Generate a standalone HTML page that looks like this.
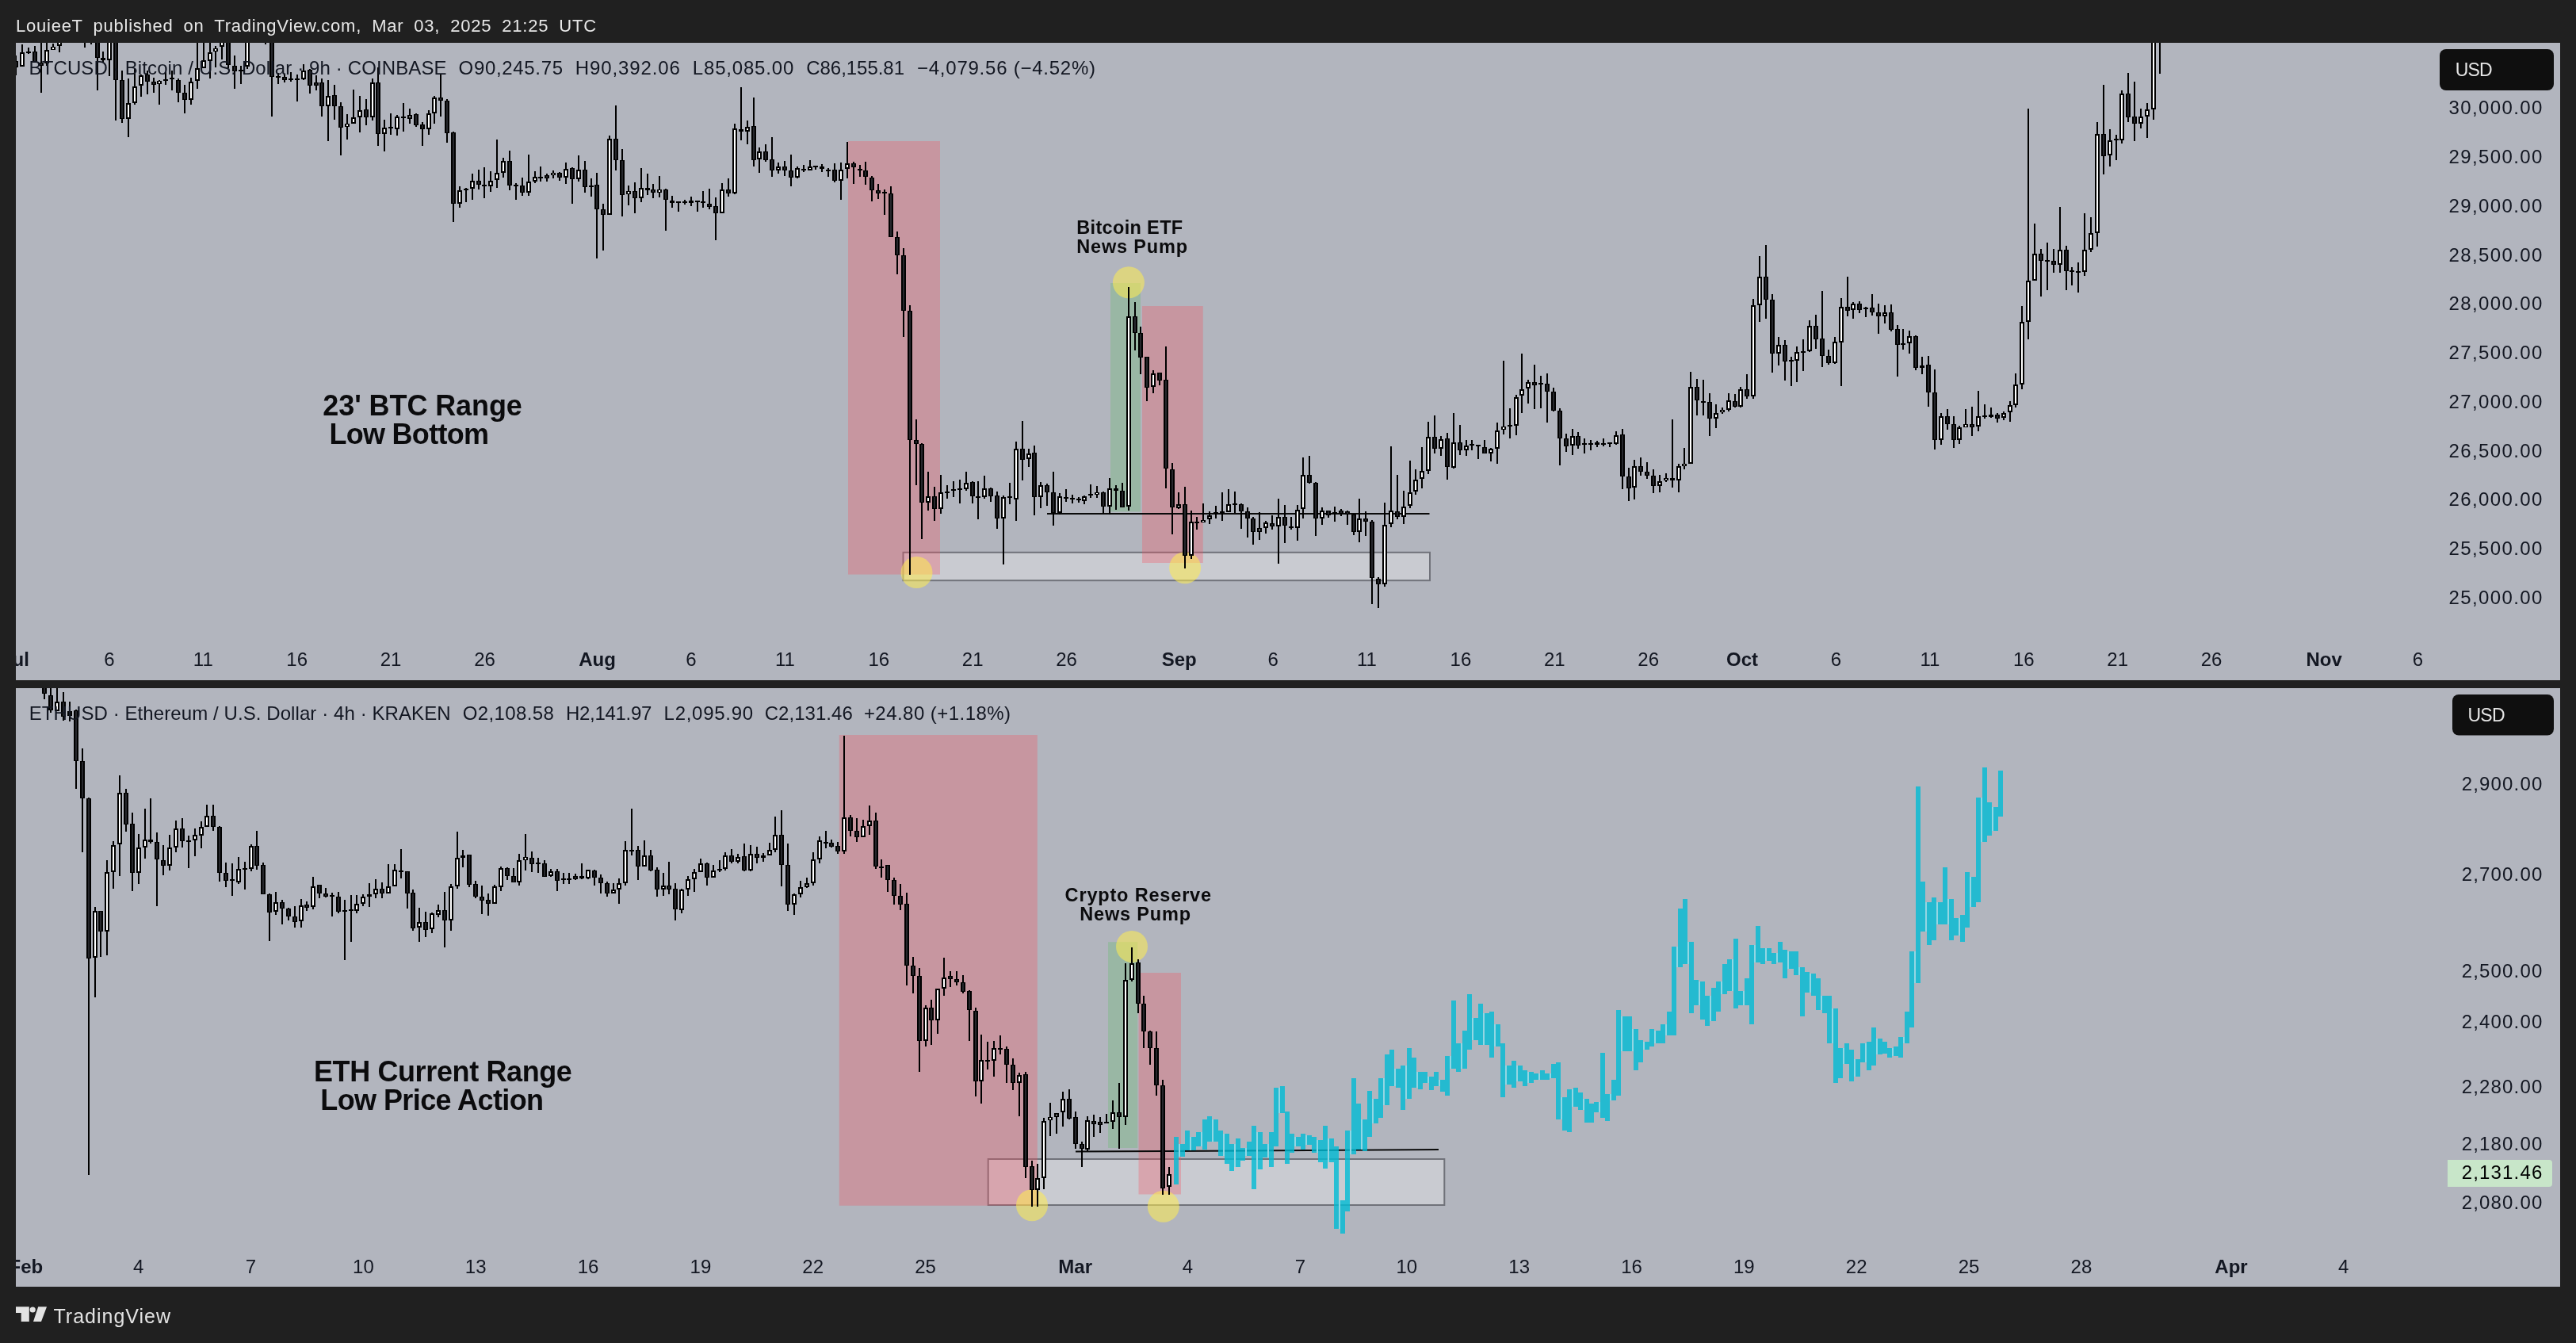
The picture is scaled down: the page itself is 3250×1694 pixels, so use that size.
<!DOCTYPE html>
<html lang="en"><head><meta charset="utf-8"><title>TradingView chart snapshot</title>
<style>
html,body{margin:0;padding:0;background:#202020;}
body{width:3250px;height:1694px;overflow:hidden;}
svg{display:block;font-family:"Liberation Sans", sans-serif;will-change:transform;}
text{white-space:pre;}
</style></head><body>
<svg width="3250" height="1694" viewBox="0 0 3250 1694">
<rect width="3250" height="1694" fill="#202020"/>
<rect x="20.0" y="54.0" width="3210.0" height="804.0" fill="#b2b5be"/>
<rect x="20.0" y="868.0" width="3210.0" height="755.0" fill="#b2b5be"/>
<text x="20.0" y="40.0" font-size="22" fill="#e6e6e6" font-weight="normal" text-anchor="start" letter-spacing="0.76" word-spacing="6.2">LouieeT published on TradingView.com, Mar 03, 2025 21:25 UTC</text>
<g fill="#e3e3e3"><path d="M20 1648.2H36.8V1667H26.7V1656H20Z"/><circle cx="41.2" cy="1652" r="3.6"/><path d="M48.2 1648.2H59L52 1667H42Z"/></g>
<text x="67.5" y="1668.7" font-size="25" fill="#e3e3e3" font-weight="normal" text-anchor="start" textLength="147.5" lengthAdjust="spacing">TradingView</text>
<defs><clipPath id="c1"><rect x="20" y="54" width="3210" height="804"/></clipPath><clipPath id="c2"><rect x="20" y="868" width="3210" height="755"/></clipPath></defs>
<g clip-path="url(#c1)">
<rect x="1139.5" y="696.8" width="664.5" height="35.4" fill="rgba(255,255,255,0.30)" stroke="#70727a" stroke-width="2"/>
<rect x="1070.0" y="178.0" width="116.0" height="546.6" fill="rgba(248,78,93,0.3)"/>
<rect x="1401.0" y="357.0" width="38.0" height="288.4" fill="#99b7a4"/>
<rect x="1441.0" y="386.0" width="76.8" height="324.0" fill="rgba(248,78,93,0.3)"/>
<line x1="1321" y1="648" x2="1803.5" y2="648" stroke="#0a0a0a" stroke-width="2"/>
<circle cx="1423.9" cy="356.3" r="20" fill="rgba(255,236,80,0.55)"/>
<circle cx="1156.5" cy="722.1" r="20" fill="rgba(255,236,80,0.55)"/>
<circle cx="1495.1" cy="716.2" r="20" fill="rgba(255,236,80,0.55)"/>
<path d="M20 70V95M28 56V84M36 60V68M44 58V79M52 52V117M59 52V83M67 55V63M75 49V66M83 29V49M91 29V47M99 29V48M107 29V60M115 29V56M123 42V114M130 65V79M138 42V96M146 42V152M154 89V155M162 99V173M170 86V132M178 94V122M186 89V119M194 98V117M201 101V132M209 91V107M217 89V114M225 99V129M233 107V143M241 98V132M249 52V112M257 52V86M265 52V99M272 58V85M280 47V75M288 44V86M296 70V112M304 83V106M312 38V87M320 7V38M328 7V46M335 23V56M343 38V147M351 92V106M359 94V104M367 91V103M375 94V128M383 81V101M391 87V118M399 95V114M406 99V147M414 101V178M422 107V151M430 129V196M438 144V176M446 113V156M454 121V167M462 125V158M470 99V152M477 85V184M485 151V191M493 143V170M501 145V171M509 130V166M517 137V156M525 143V160M533 154V184M541 139V170M548 121V156M556 94V147M564 125V180M572 166V280M580 235V262M588 237V255M596 219V252M604 214V239M611 211V250M619 216V242M627 176V237M635 199V224M643 190V240M651 231V252M659 224V247M667 195V247M675 216V231M682 210V229M690 219V229M698 215V225M706 217V228M714 205V232M722 211V257M730 196V229M738 203V243M746 225V248M753 218V326M761 257V316M769 171V271M777 133V215M785 188V273M793 234V259M801 230V269M809 212V255M817 219V246M824 232V250M832 222V249M840 238V291M848 247V262M856 254V267M864 252V258M872 248V260M880 253V267M887 241V262M895 238V264M903 249V303M911 231V269M919 225V248M927 156V245M935 110V177M943 152V182M951 123V210M958 186V218M966 182V204M974 173V223M982 205V219M990 203V222M998 195V235M1006 210V225M1014 208V217M1022 202V215M1029 209V214M1037 207V217M1045 212V223M1053 206V230M1061 205V252M1069 179V225M1077 204V232M1085 208V223M1092 204V233M1100 222V254M1108 232V251M1116 239V271M1124 235V299M1132 292V346M1140 313V425M1148 385V725M1156 529V612M1163 559V680M1171 595V644M1179 614V657M1187 599V648M1195 612V629M1203 607V627M1211 605V635M1219 595V619M1227 607V635M1234 607V655M1242 600V629M1250 615V633M1258 620V667M1266 625V712M1274 609V636M1282 557V657M1290 531V606M1298 566V589M1305 562V650M1313 608V641M1321 610V638M1329 595V663M1337 622V649M1345 617V633M1353 624V635M1361 627V634M1368 625V636M1376 611V628M1384 613V628M1392 620V648M1400 603V649M1408 612V643M1416 609V640M1424 362V644M1432 381V442M1439 412V472M1447 450V506M1455 467V496M1463 470V486M1471 437V616M1479 584V674M1487 621V642M1495 614V717M1503 644V705M1510 652V668M1518 635V659M1526 645V661M1534 638V654M1542 621V657M1550 617V646M1558 620V647M1566 635V667M1574 640V678M1581 652V687M1589 646V681M1597 657V673M1605 650V668M1613 629V711M1621 637V685M1629 652V668M1637 637V682M1644 577V654M1652 575V610M1660 608V676M1668 640V662M1676 644V653M1684 639V658M1692 642V651M1700 644V662M1708 648V675M1715 629V684M1723 645V676M1731 656V762M1739 728V767M1747 634V740M1755 563V665M1763 599V655M1771 619V661M1779 581V641M1786 592V624M1794 564V616M1802 532V598M1810 524V572M1818 550V575M1826 546V605M1834 521V591M1842 536V574M1850 555V575M1857 555V568M1865 561V579M1873 555V572M1881 565V582M1889 533V585M1897 455V548M1905 515V553M1913 498V549M1920 446V521M1928 479V509M1936 460V516M1944 474V515M1952 471V533M1960 489V519M1968 515V587M1976 547V570M1984 541V574M1991 545V566M1999 553V572M2007 555V568M2015 556V564M2023 553V563M2031 558V564M2039 544V561M2047 541V617M2055 590V632M2062 580V630M2070 577V600M2078 583V604M2086 592V622M2094 599V621M2102 597V608M2110 529V615M2118 585V621M2125 565V592M2133 469V585M2141 478V524M2149 479V524M2157 496V550M2165 510V540M2173 514V522M2181 496V519M2189 497V514M2196 488V514M2204 472V503M2212 377V503M2220 323V406M2228 309V402M2236 371V470M2244 425V461M2252 429V480M2260 450V487M2267 437V482M2275 428V468M2283 404V444M2291 397V440M2299 367V463M2307 441V460M2315 425V459M2323 376V487M2331 349V399M2338 381V402M2346 380V395M2354 387V400M2362 371V398M2370 383V421M2378 385V408M2386 384V418M2394 410V475M2401 415V441M2409 417V446M2417 423V467M2425 450V472M2433 449V513M2441 466V567M2449 521V561M2457 516V542M2465 525V565M2472 537V560M2480 516V539M2488 513V550M2496 493V544M2504 510V528M2512 514V527M2520 521V533M2528 519V530M2536 506V532M2543 471V514M2551 386V491M2559 137V428M2567 282V354M2575 314V374M2583 306V366M2591 314V344M2599 261V344M2607 310V366M2614 337V360M2622 331V369M2630 269V348M2638 274V318M2646 154V311M2654 107V220M2662 163V210M2670 170V202M2677 114V181M2685 92V154M2693 103V178M2701 137V162M2709 130V174M2717 7V151M2725 -8V93" stroke="#000" stroke-width="2" fill="none"/>
<path d="M17 77h6V85h-6ZM33 65h6V67h-6ZM41 65h6V79h-6ZM49 79h6V83h-6ZM80 35h6V47h-6ZM96 34h6V44h-6ZM112 39h6V49h-6ZM120 44h6V73h-6ZM127 73h6V76h-6ZM143 48h6V101h-6ZM151 101h6V150h-6ZM183 94h6V103h-6ZM191 103h6V107h-6ZM206 100h6V102h-6ZM214 98h6V100h-6ZM222 101h6V117h-6ZM230 117h6V126h-6ZM285 47h6V82h-6ZM293 83h6V90h-6ZM301 88h6V90h-6ZM317 15h6V35h-6ZM332 31h6V49h-6ZM340 45h6V97h-6ZM348 96h6V98h-6ZM356 97h6V101h-6ZM364 99h6V101h-6ZM372 99h6V101h-6ZM388 88h6V108h-6ZM396 104h6V108h-6ZM403 104h6V134h-6ZM419 120h6V134h-6ZM427 134h6V161h-6ZM459 138h6V148h-6ZM474 104h6V169h-6ZM490 160h6V162h-6ZM506 147h6V149h-6ZM522 144h6V158h-6ZM530 157h6V163h-6ZM553 123h6V127h-6ZM561 127h6V168h-6ZM569 167h6V257h-6ZM585 238h6V240h-6ZM601 228h6V233h-6ZM608 233h6V235h-6ZM640 203h6V234h-6ZM648 233h6V235h-6ZM656 234h6V243h-6ZM679 223h6V225h-6ZM687 221h6V225h-6ZM703 218h6V224h-6ZM719 212h6V226h-6ZM735 214h6V236h-6ZM743 234h6V236h-6ZM750 233h6V264h-6ZM758 264h6V271h-6ZM774 175h6V202h-6ZM782 202h6V246h-6ZM798 241h6V250h-6ZM814 237h6V240h-6ZM821 239h6V243h-6ZM837 239h6V252h-6ZM845 253h6V256h-6ZM853 254h6V256h-6ZM861 254h6V256h-6ZM869 253h6V256h-6ZM877 253h6V255h-6ZM884 254h6V256h-6ZM892 257h6V261h-6ZM900 260h6V269h-6ZM916 239h6V244h-6ZM932 163h6V166h-6ZM948 159h6V202h-6ZM963 191h6V202h-6ZM971 201h6V215h-6ZM987 210h6V215h-6ZM995 215h6V224h-6ZM1011 213h6V215h-6ZM1026 209h6V211h-6ZM1034 210h6V213h-6ZM1042 214h6V216h-6ZM1050 214h6V228h-6ZM1074 206h6V211h-6ZM1082 213h6V215h-6ZM1089 215h6V223h-6ZM1097 224h6V240h-6ZM1105 240h6V244h-6ZM1113 242h6V244h-6ZM1121 244h6V299h-6ZM1129 299h6V322h-6ZM1137 322h6V392h-6ZM1145 392h6V555h-6ZM1153 555h6V560h-6ZM1160 560h6V634h-6ZM1176 626h6V642h-6ZM1192 620h6V622h-6ZM1200 617h6V619h-6ZM1208 616h6V618h-6ZM1224 608h6V626h-6ZM1231 626h6V628h-6ZM1247 616h6V626h-6ZM1255 625h6V654h-6ZM1271 626h6V628h-6ZM1287 566h6V580h-6ZM1302 571h6V627h-6ZM1318 612h6V621h-6ZM1326 621h6V647h-6ZM1342 627h6V629h-6ZM1350 628h6V630h-6ZM1358 629h6V631h-6ZM1373 623h6V625h-6ZM1389 621h6V639h-6ZM1405 616h6V619h-6ZM1413 619h6V640h-6ZM1429 399h6V420h-6ZM1436 420h6V451h-6ZM1444 450h6V489h-6ZM1460 470h6V480h-6ZM1468 479h6V591h-6ZM1476 592h6V640h-6ZM1492 636h6V701h-6ZM1507 658h6V660h-6ZM1531 646h6V648h-6ZM1539 645h6V647h-6ZM1555 635h6V637h-6ZM1563 636h6V645h-6ZM1571 645h6V654h-6ZM1578 654h6V671h-6ZM1602 660h6V664h-6ZM1618 652h6V663h-6ZM1626 664h6V666h-6ZM1649 599h6V609h-6ZM1657 609h6V654h-6ZM1673 644h6V650h-6ZM1681 646h6V648h-6ZM1689 644h6V648h-6ZM1697 645h6V649h-6ZM1705 649h6V671h-6ZM1720 654h6V658h-6ZM1728 658h6V729h-6ZM1736 730h6V737h-6ZM1760 645h6V652h-6ZM1807 551h6V566h-6ZM1823 553h6V589h-6ZM1839 558h6V568h-6ZM1854 560h6V562h-6ZM1862 561h6V563h-6ZM1870 564h6V572h-6ZM1902 536h6V538h-6ZM1933 482h6V486h-6ZM1941 483h6V485h-6ZM1949 484h6V494h-6ZM1957 494h6V518h-6ZM1965 518h6V553h-6ZM1973 553h6V563h-6ZM1988 550h6V562h-6ZM1996 559h6V561h-6ZM2004 559h6V561h-6ZM2012 558h6V561h-6ZM2020 559h6V561h-6ZM2028 558h6V560h-6ZM2044 548h6V601h-6ZM2052 601h6V616h-6ZM2067 588h6V595h-6ZM2075 595h6V600h-6ZM2083 600h6V613h-6ZM2107 603h6V606h-6ZM2138 488h6V505h-6ZM2146 506h6V508h-6ZM2154 507h6V528h-6ZM2186 506h6V513h-6ZM2201 491h6V500h-6ZM2225 349h6V378h-6ZM2233 378h6V446h-6ZM2249 435h6V456h-6ZM2257 454h6V456h-6ZM2272 443h6V445h-6ZM2288 411h6V428h-6ZM2296 427h6V449h-6ZM2304 449h6V458h-6ZM2328 387h6V392h-6ZM2343 383h6V391h-6ZM2351 388h6V390h-6ZM2359 388h6V394h-6ZM2367 394h6V399h-6ZM2383 394h6V416h-6ZM2391 415h6V435h-6ZM2398 433h6V435h-6ZM2414 424h6V464h-6ZM2422 461h6V464h-6ZM2430 460h6V495h-6ZM2438 495h6V555h-6ZM2454 525h6V535h-6ZM2462 535h6V555h-6ZM2485 535h6V539h-6ZM2501 524h6V526h-6ZM2509 523h6V526h-6ZM2517 523h6V528h-6ZM2572 320h6V329h-6ZM2580 328h6V330h-6ZM2588 329h6V334h-6ZM2604 315h6V342h-6ZM2611 341h6V343h-6ZM2619 342h6V344h-6ZM2651 169h6V197h-6ZM2667 175h6V177h-6ZM2682 118h6V148h-6ZM2690 147h6V156h-6Z" fill="#000"/>
<path d="M19 78h2V84h-2ZM43 66h2V78h-2ZM51 80h2V82h-2ZM82 36h2V46h-2ZM98 35h2V43h-2ZM114 40h2V48h-2ZM122 45h2V72h-2ZM145 49h2V100h-2ZM153 102h2V149h-2ZM185 95h2V102h-2ZM193 104h2V106h-2ZM224 102h2V116h-2ZM232 118h2V125h-2ZM287 48h2V81h-2ZM295 84h2V89h-2ZM319 16h2V34h-2ZM334 32h2V48h-2ZM342 46h2V96h-2ZM358 98h2V100h-2ZM390 89h2V107h-2ZM398 105h2V107h-2ZM405 105h2V133h-2ZM421 121h2V133h-2ZM429 135h2V160h-2ZM461 139h2V147h-2ZM476 105h2V168h-2ZM524 145h2V157h-2ZM532 158h2V162h-2ZM555 124h2V126h-2ZM563 128h2V167h-2ZM571 168h2V256h-2ZM603 229h2V232h-2ZM642 204h2V233h-2ZM658 235h2V242h-2ZM689 222h2V224h-2ZM705 219h2V223h-2ZM721 213h2V225h-2ZM737 215h2V235h-2ZM752 234h2V263h-2ZM760 265h2V270h-2ZM776 176h2V201h-2ZM784 203h2V245h-2ZM800 242h2V249h-2ZM823 240h2V242h-2ZM839 240h2V251h-2ZM894 258h2V260h-2ZM902 261h2V268h-2ZM918 240h2V243h-2ZM950 160h2V201h-2ZM965 192h2V201h-2ZM973 202h2V214h-2ZM989 211h2V214h-2ZM997 216h2V223h-2ZM1052 215h2V227h-2ZM1076 207h2V210h-2ZM1091 216h2V222h-2ZM1099 225h2V239h-2ZM1107 241h2V243h-2ZM1123 245h2V298h-2ZM1131 300h2V321h-2ZM1139 323h2V391h-2ZM1147 393h2V554h-2ZM1155 556h2V559h-2ZM1162 561h2V633h-2ZM1178 627h2V641h-2ZM1226 609h2V625h-2ZM1249 617h2V625h-2ZM1257 626h2V653h-2ZM1289 567h2V579h-2ZM1304 572h2V626h-2ZM1320 613h2V620h-2ZM1328 622h2V646h-2ZM1391 622h2V638h-2ZM1415 620h2V639h-2ZM1431 400h2V419h-2ZM1438 421h2V450h-2ZM1446 451h2V488h-2ZM1462 471h2V479h-2ZM1470 480h2V590h-2ZM1478 593h2V639h-2ZM1494 637h2V700h-2ZM1565 637h2V644h-2ZM1573 646h2V653h-2ZM1580 655h2V670h-2ZM1604 661h2V663h-2ZM1620 653h2V662h-2ZM1651 600h2V608h-2ZM1659 610h2V653h-2ZM1675 645h2V649h-2ZM1691 645h2V647h-2ZM1699 646h2V648h-2ZM1707 650h2V670h-2ZM1722 655h2V657h-2ZM1730 659h2V728h-2ZM1738 731h2V736h-2ZM1762 646h2V651h-2ZM1809 552h2V565h-2ZM1825 554h2V588h-2ZM1841 559h2V567h-2ZM1872 565h2V571h-2ZM1935 483h2V485h-2ZM1951 485h2V493h-2ZM1959 495h2V517h-2ZM1967 519h2V552h-2ZM1975 554h2V562h-2ZM1990 551h2V561h-2ZM2046 549h2V600h-2ZM2054 602h2V615h-2ZM2069 589h2V594h-2ZM2077 596h2V599h-2ZM2085 601h2V612h-2ZM2140 489h2V504h-2ZM2156 508h2V527h-2ZM2188 507h2V512h-2ZM2203 492h2V499h-2ZM2227 350h2V377h-2ZM2235 379h2V445h-2ZM2251 436h2V455h-2ZM2290 412h2V427h-2ZM2298 428h2V448h-2ZM2306 450h2V457h-2ZM2330 388h2V391h-2ZM2345 384h2V390h-2ZM2361 389h2V393h-2ZM2369 395h2V398h-2ZM2385 395h2V415h-2ZM2393 416h2V434h-2ZM2416 425h2V463h-2ZM2432 461h2V494h-2ZM2440 496h2V554h-2ZM2456 526h2V534h-2ZM2464 536h2V554h-2ZM2487 536h2V538h-2ZM2519 524h2V527h-2ZM2574 321h2V328h-2ZM2590 330h2V333h-2ZM2606 316h2V341h-2ZM2653 170h2V196h-2ZM2684 119h2V147h-2ZM2692 148h2V155h-2Z" fill="#26272c"/>
<path d="M25 66h6V84h-6ZM56 63h6V80h-6ZM64 59h6V63h-6ZM72 50h6V58h-6ZM88 32h6V42h-6ZM104 35h6V48h-6ZM135 47h6V76h-6ZM159 130h6V150h-6ZM167 109h6V130h-6ZM175 95h6V108h-6ZM198 102h6V106h-6ZM238 103h6V126h-6ZM246 86h6V102h-6ZM254 76h6V86h-6ZM262 66h6V77h-6ZM269 61h6V65h-6ZM277 49h6V59h-6ZM309 42h6V84h-6ZM325 23h6V38h-6ZM380 89h6V100h-6ZM411 121h6V134h-6ZM435 156h6V160h-6ZM443 148h6V156h-6ZM451 139h6V148h-6ZM467 104h6V148h-6ZM482 161h6V169h-6ZM498 147h6V163h-6ZM514 145h6V150h-6ZM538 143h6V163h-6ZM545 123h6V143h-6ZM577 240h6V257h-6ZM593 228h6V238h-6ZM616 228h6V235h-6ZM624 218h6V227h-6ZM632 203h6V218h-6ZM664 229h6V243h-6ZM672 223h6V229h-6ZM695 218h6V221h-6ZM711 213h6V224h-6ZM727 214h6V226h-6ZM766 175h6V271h-6ZM790 241h6V245h-6ZM806 237h6V250h-6ZM829 239h6V243h-6ZM908 239h6V269h-6ZM924 162h6V244h-6ZM940 160h6V166h-6ZM955 191h6V201h-6ZM979 210h6V215h-6ZM1003 212h6V224h-6ZM1019 210h6V215h-6ZM1058 214h6V228h-6ZM1066 206h6V213h-6ZM1168 626h6V634h-6ZM1184 621h6V642h-6ZM1216 609h6V617h-6ZM1239 616h6V627h-6ZM1263 627h6V654h-6ZM1279 566h6V630h-6ZM1295 572h6V579h-6ZM1310 612h6V627h-6ZM1334 626h6V647h-6ZM1365 626h6V632h-6ZM1381 621h6V624h-6ZM1397 616h6V639h-6ZM1421 399h6V639h-6ZM1452 471h6V488h-6ZM1484 636h6V641h-6ZM1500 658h6V701h-6ZM1515 656h6V659h-6ZM1523 650h6V655h-6ZM1547 636h6V646h-6ZM1586 666h6V671h-6ZM1594 659h6V666h-6ZM1610 652h6V664h-6ZM1634 643h6V666h-6ZM1641 599h6V642h-6ZM1665 644h6V654h-6ZM1712 654h6V671h-6ZM1744 662h6V737h-6ZM1752 644h6V661h-6ZM1768 639h6V652h-6ZM1776 621h6V638h-6ZM1783 605h6V620h-6ZM1791 594h6V604h-6ZM1799 551h6V594h-6ZM1815 554h6V566h-6ZM1831 558h6V590h-6ZM1847 562h6V568h-6ZM1878 566h6V572h-6ZM1886 543h6V566h-6ZM1894 538h6V542h-6ZM1910 501h6V537h-6ZM1917 491h6V499h-6ZM1925 482h6V490h-6ZM1981 550h6V562h-6ZM2036 549h6V560h-6ZM2059 588h6V615h-6ZM2091 607h6V613h-6ZM2099 603h6V606h-6ZM2115 588h6V606h-6ZM2122 585h6V588h-6ZM2130 488h6V585h-6ZM2162 521h6V528h-6ZM2170 517h6V520h-6ZM2178 505h6V517h-6ZM2193 491h6V513h-6ZM2209 385h6V500h-6ZM2217 349h6V385h-6ZM2241 435h6V446h-6ZM2264 444h6V455h-6ZM2280 411h6V443h-6ZM2312 431h6V458h-6ZM2320 387h6V432h-6ZM2335 383h6V391h-6ZM2375 394h6V399h-6ZM2406 424h6V433h-6ZM2446 525h6V555h-6ZM2469 539h6V555h-6ZM2477 535h6V539h-6ZM2493 525h6V538h-6ZM2525 521h6V527h-6ZM2533 511h6V520h-6ZM2540 485h6V511h-6ZM2548 406h6V485h-6ZM2556 354h6V406h-6ZM2564 320h6V354h-6ZM2596 315h6V334h-6ZM2627 315h6V343h-6ZM2635 294h6V315h-6ZM2643 169h6V294h-6ZM2659 177h6V196h-6ZM2674 118h6V177h-6ZM2698 147h6V156h-6ZM2706 138h6V147h-6ZM2714 23h6V138h-6ZM2722 7h6V46h-6Z" fill="#000"/>
<path d="M27 68h2v14h-2ZM58 65h2v13h-2ZM66 60h2v2h-2ZM74 52h2v4h-2ZM90 34h2v6h-2ZM106 37h2v9h-2ZM137 49h2v25h-2ZM161 132h2v16h-2ZM169 111h2v17h-2ZM177 97h2v9h-2ZM200 103h2v2h-2ZM240 105h2v19h-2ZM248 88h2v12h-2ZM256 78h2v6h-2ZM264 68h2v7h-2ZM271 62h2v2h-2ZM279 51h2v6h-2ZM311 44h2v38h-2ZM327 25h2v11h-2ZM382 91h2v7h-2ZM413 123h2v9h-2ZM437 157h2v2h-2ZM445 150h2v4h-2ZM453 141h2v5h-2ZM469 106h2v40h-2ZM484 163h2v4h-2ZM500 149h2v12h-2ZM516 147h2v1h-2ZM540 145h2v16h-2ZM547 125h2v16h-2ZM579 242h2v13h-2ZM595 230h2v6h-2ZM618 230h2v3h-2ZM626 220h2v5h-2ZM634 205h2v11h-2ZM666 231h2v10h-2ZM674 225h2v2h-2ZM697 219h2v1h-2ZM713 215h2v7h-2ZM729 216h2v8h-2ZM768 177h2v92h-2ZM792 242h2v2h-2ZM808 239h2v9h-2ZM831 240h2v2h-2ZM910 241h2v26h-2ZM926 164h2v78h-2ZM942 162h2v2h-2ZM957 193h2v6h-2ZM981 212h2v1h-2ZM1005 214h2v8h-2ZM1021 212h2v1h-2ZM1060 216h2v10h-2ZM1068 208h2v3h-2ZM1170 628h2v4h-2ZM1186 623h2v17h-2ZM1218 611h2v4h-2ZM1241 618h2v7h-2ZM1265 629h2v23h-2ZM1281 568h2v60h-2ZM1297 574h2v3h-2ZM1312 614h2v11h-2ZM1336 628h2v17h-2ZM1367 628h2v2h-2ZM1383 622h2v1h-2ZM1399 618h2v19h-2ZM1423 401h2v236h-2ZM1454 473h2v13h-2ZM1486 638h2v1h-2ZM1502 660h2v39h-2ZM1517 657h2v1h-2ZM1525 652h2v1h-2ZM1549 638h2v6h-2ZM1588 668h2v1h-2ZM1596 661h2v3h-2ZM1612 654h2v8h-2ZM1636 645h2v19h-2ZM1643 601h2v39h-2ZM1667 646h2v6h-2ZM1714 656h2v13h-2ZM1746 664h2v71h-2ZM1754 646h2v13h-2ZM1770 641h2v9h-2ZM1778 623h2v13h-2ZM1785 607h2v11h-2ZM1793 596h2v6h-2ZM1801 553h2v39h-2ZM1817 556h2v8h-2ZM1833 560h2v28h-2ZM1849 564h2v2h-2ZM1880 568h2v2h-2ZM1888 545h2v19h-2ZM1896 539h2v2h-2ZM1912 503h2v32h-2ZM1919 493h2v4h-2ZM1927 484h2v4h-2ZM1983 552h2v8h-2ZM2038 551h2v7h-2ZM2061 590h2v23h-2ZM2093 609h2v2h-2ZM2101 604h2v1h-2ZM2117 590h2v14h-2ZM2124 586h2v1h-2ZM2132 490h2v93h-2ZM2164 523h2v3h-2ZM2172 518h2v1h-2ZM2180 507h2v8h-2ZM2195 493h2v18h-2ZM2211 387h2v111h-2ZM2219 351h2v32h-2ZM2243 437h2v7h-2ZM2266 446h2v7h-2ZM2282 413h2v28h-2ZM2314 433h2v23h-2ZM2322 389h2v41h-2ZM2337 385h2v4h-2ZM2377 396h2v1h-2ZM2408 426h2v5h-2ZM2448 527h2v26h-2ZM2471 541h2v12h-2ZM2479 536h2v2h-2ZM2495 527h2v9h-2ZM2527 523h2v2h-2ZM2535 513h2v5h-2ZM2542 487h2v22h-2ZM2550 408h2v75h-2ZM2558 356h2v48h-2ZM2566 322h2v30h-2ZM2598 317h2v15h-2ZM2629 317h2v24h-2ZM2637 296h2v17h-2ZM2645 171h2v121h-2ZM2661 179h2v15h-2ZM2676 120h2v55h-2ZM2700 149h2v5h-2ZM2708 140h2v5h-2ZM2716 25h2v111h-2ZM2724 9h2v35h-2Z" fill="#fff"/>

</g>
<g clip-path="url(#c2)">
<rect x="1246.7" y="1462" width="575.6" height="58" fill="rgba(255,255,255,0.30)" stroke="#70727a" stroke-width="2"/>
<rect x="1058.8" y="927.0" width="250.0" height="593.7" fill="rgba(248,78,93,0.3)"/>
<rect x="1398.0" y="1188.2" width="37.3" height="259.8" fill="#99b7a4"/>
<rect x="1436.5" y="1227.0" width="53.5" height="279.5" fill="rgba(248,78,93,0.3)"/>
<line x1="1357" y1="1452.6" x2="1815" y2="1450" stroke="#0a0a0a" stroke-width="2"/>
<path d="M1481 1434h6V1494h-6ZM1489 1443h6V1459h-6ZM1495 1426h6V1451h-6ZM1503 1434h6V1451h-6ZM1509 1428h6V1446h-6ZM1517 1412h6V1450h-6ZM1523 1408h6V1440h-6ZM1531 1412h6V1440h-6ZM1537 1426h6V1458h-6ZM1545 1430h6V1468h-6ZM1551 1443h6V1477h-6ZM1559 1436h6V1472h-6ZM1565 1448h6V1464h-6ZM1573 1440h6V1458h-6ZM1579 1420h6V1500h-6ZM1587 1428h6V1475h-6ZM1593 1443h6V1460h-6ZM1601 1428h6V1472h-6ZM1607 1372h6V1446h-6ZM1615 1370h6V1404h-6ZM1621 1402h6V1468h-6ZM1627 1430h6V1454h-6ZM1635 1434h6V1446h-6ZM1641 1430h6V1450h-6ZM1649 1432h6V1444h-6ZM1655 1434h6V1454h-6ZM1663 1438h6V1466h-6ZM1669 1420h6V1474h-6ZM1677 1436h6V1466h-6ZM1683 1446h6V1550h-6ZM1691 1514h6V1556h-6ZM1697 1426h6V1528h-6ZM1705 1360h6V1456h-6ZM1711 1392h6V1450h-6ZM1719 1412h6V1452h-6ZM1725 1376h6V1434h-6ZM1733 1386h6V1417h-6ZM1739 1360h6V1410h-6ZM1747 1330h6V1394h-6ZM1753 1324h6V1370h-6ZM1761 1348h6V1372h-6ZM1767 1344h6V1400h-6ZM1775 1322h6V1386h-6ZM1781 1334h6V1372h-6ZM1789 1352h6V1374h-6ZM1795 1352h6V1366h-6ZM1803 1358h6V1375h-6ZM1809 1352h6V1370h-6ZM1817 1362h6V1377h-6ZM1823 1332h6V1382h-6ZM1831 1262h6V1348h-6ZM1837 1316h6V1352h-6ZM1845 1300h6V1348h-6ZM1851 1254h6V1324h-6ZM1859 1284h6V1312h-6ZM1865 1266h6V1318h-6ZM1873 1278h6V1318h-6ZM1879 1276h6V1334h-6ZM1887 1292h6V1320h-6ZM1893 1316h6V1384h-6ZM1901 1344h6V1368h-6ZM1907 1338h6V1372h-6ZM1915 1344h6V1364h-6ZM1921 1350h6V1370h-6ZM1929 1352h6V1366h-6ZM1935 1354h6V1362h-6ZM1943 1350h6V1362h-6ZM1949 1354h6V1362h-6ZM1957 1342h6V1360h-6ZM1963 1340h6V1412h-6ZM1971 1384h6V1426h-6ZM1977 1374h6V1428h-6ZM1985 1372h6V1396h-6ZM1991 1378h6V1400h-6ZM1999 1386h6V1416h-6ZM2005 1392h6V1416h-6ZM2011 1390h6V1403h-6ZM2019 1328h6V1410h-6ZM2025 1380h6V1414h-6ZM2033 1362h6V1388h-6ZM2039 1274h6V1382h-6ZM2047 1282h6V1326h-6ZM2053 1282h6V1326h-6ZM2061 1298h6V1350h-6ZM2067 1312h6V1340h-6ZM2075 1314h6V1324h-6ZM2081 1298h6V1320h-6ZM2089 1300h6V1316h-6ZM2095 1292h6V1316h-6ZM2103 1276h6V1306h-6ZM2109 1194h6V1306h-6ZM2117 1146h6V1220h-6ZM2123 1134h6V1216h-6ZM2131 1188h6V1278h-6ZM2137 1236h6V1268h-6ZM2145 1238h6V1286h-6ZM2151 1256h6V1294h-6ZM2159 1246h6V1288h-6ZM2165 1238h6V1276h-6ZM2173 1216h6V1254h-6ZM2179 1210h6V1250h-6ZM2187 1184h6V1272h-6ZM2193 1250h6V1268h-6ZM2201 1234h6V1268h-6ZM2207 1192h6V1292h-6ZM2215 1168h6V1214h-6ZM2221 1196h6V1216h-6ZM2229 1196h6V1212h-6ZM2235 1202h6V1216h-6ZM2243 1188h6V1214h-6ZM2249 1198h6V1234h-6ZM2257 1200h6V1222h-6ZM2263 1200h6V1230h-6ZM2271 1220h6V1282h-6ZM2277 1226h6V1252h-6ZM2285 1228h6V1256h-6ZM2291 1234h6V1274h-6ZM2299 1256h6V1278h-6ZM2305 1256h6V1316h-6ZM2313 1272h6V1366h-6ZM2319 1322h6V1360h-6ZM2327 1316h6V1342h-6ZM2333 1324h6V1364h-6ZM2341 1336h6V1358h-6ZM2347 1316h6V1340h-6ZM2355 1314h6V1350h-6ZM2361 1296h6V1344h-6ZM2369 1310h6V1330h-6ZM2375 1314h6V1329h-6ZM2381 1322h6V1334h-6ZM2389 1320h6V1332h-6ZM2395 1308h6V1334h-6ZM2403 1276h6V1316h-6ZM2409 1200h6V1296h-6ZM2417 992h6V1240h-6ZM2423 1112h6V1175h-6ZM2431 1138h6V1192h-6ZM2437 1132h6V1186h-6ZM2445 1138h6V1166h-6ZM2451 1094h6V1166h-6ZM2459 1134h6V1186h-6ZM2465 1158h6V1180h-6ZM2473 1154h6V1188h-6ZM2479 1100h6V1170h-6ZM2487 1106h6V1144h-6ZM2493 1006h6V1138h-6ZM2501 968h6V1062h-6ZM2507 1012h6V1054h-6ZM2515 1018h6V1048h-6ZM2521 972h6V1030h-6Z" fill="rgba(0,188,212,0.8)"/>
<path d="M1487 1443h2V1459h-2ZM1501 1434h2V1451h-2ZM1515 1428h2V1446h-2ZM1529 1412h2V1440h-2ZM1543 1430h2V1458h-2ZM1557 1443h2V1472h-2ZM1571 1448h2V1458h-2ZM1585 1428h2V1475h-2ZM1599 1443h2V1460h-2ZM1613 1372h2V1404h-2ZM1633 1434h2V1446h-2ZM1647 1432h2V1444h-2ZM1661 1438h2V1454h-2ZM1675 1436h2V1466h-2ZM1689 1514h2V1550h-2ZM1703 1426h2V1456h-2ZM1717 1412h2V1450h-2ZM1731 1386h2V1417h-2ZM1745 1360h2V1394h-2ZM1759 1348h2V1370h-2ZM1773 1344h2V1386h-2ZM1787 1352h2V1372h-2ZM1801 1358h2V1366h-2ZM1815 1362h2V1370h-2ZM1829 1332h2V1348h-2ZM1843 1316h2V1348h-2ZM1857 1284h2V1312h-2ZM1871 1278h2V1318h-2ZM1885 1292h2V1320h-2ZM1899 1344h2V1368h-2ZM1913 1344h2V1364h-2ZM1927 1352h2V1366h-2ZM1941 1354h2V1362h-2ZM1955 1354h2V1360h-2ZM1969 1384h2V1412h-2ZM1983 1374h2V1396h-2ZM1997 1386h2V1400h-2ZM2017 1390h2V1403h-2ZM2031 1380h2V1388h-2ZM2045 1282h2V1326h-2ZM2059 1298h2V1326h-2ZM2073 1314h2V1324h-2ZM2087 1300h2V1316h-2ZM2101 1292h2V1306h-2ZM2115 1194h2V1220h-2ZM2129 1188h2V1216h-2ZM2143 1238h2V1268h-2ZM2157 1256h2V1288h-2ZM2171 1238h2V1254h-2ZM2185 1210h2V1250h-2ZM2199 1250h2V1268h-2ZM2213 1192h2V1214h-2ZM2227 1196h2V1212h-2ZM2241 1202h2V1214h-2ZM2255 1200h2V1222h-2ZM2269 1220h2V1230h-2ZM2283 1228h2V1252h-2ZM2297 1256h2V1274h-2ZM2311 1272h2V1316h-2ZM2325 1322h2V1342h-2ZM2339 1336h2V1358h-2ZM2353 1316h2V1340h-2ZM2367 1310h2V1330h-2ZM2387 1322h2V1332h-2ZM2401 1308h2V1316h-2ZM2415 1200h2V1240h-2ZM2429 1138h2V1175h-2ZM2443 1138h2V1166h-2ZM2457 1134h2V1166h-2ZM2471 1158h2V1180h-2ZM2485 1106h2V1144h-2ZM2499 1006h2V1062h-2ZM2513 1018h2V1048h-2Z" fill="#93d6e3"/>
<circle cx="1428" cy="1193.9" r="20" fill="rgba(255,236,80,0.55)"/><circle cx="1302" cy="1520.2" r="20" fill="rgba(255,236,80,0.55)"/><circle cx="1467.8" cy="1521.8" r="20" fill="rgba(255,236,80,0.55)"/>
<path d="M56 865V882M64 868V899M72 868V897M80 873V909M88 885V910M96 895V995M104 944V1075M112 1006V1482M120 1144V1258M127 1149V1207M135 1085V1205M143 1061V1121M151 978V1105M159 995V1049M167 1025V1124M175 1052V1115M183 1020V1083M190 1007V1064M198 1050V1143M206 1066V1104M214 1053V1098M222 1035V1075M230 1032V1069M238 1054V1095M246 1045V1080M254 1036V1070M261 1015V1043M269 1015V1048M277 1042V1112M285 1088V1119M293 1089V1130M301 1081V1115M309 1087V1122M317 1065V1099M324 1048V1097M332 1088V1128M340 1127V1187M348 1125V1154M356 1135V1166M364 1145V1161M372 1143V1170M380 1134V1170M387 1137V1149M395 1106V1147M403 1116V1133M411 1120V1132M419 1126V1156M427 1125V1152M435 1135V1211M443 1129V1188M450 1129V1152M458 1128V1143M466 1114V1144M474 1109V1133M482 1113V1133M490 1090V1127M498 1090V1118M506 1071V1108M514 1099V1146M521 1122V1174M529 1145V1188M537 1150V1182M545 1151V1177M553 1141V1157M561 1125V1195M569 1115V1174M577 1049V1121M584 1072V1094M592 1078V1119M600 1111V1133M608 1117V1153M616 1127V1155M624 1116V1140M632 1093V1124M640 1094V1110M648 1095V1113M655 1077V1117M663 1052V1098M671 1074V1100M679 1082V1101M687 1085V1106M695 1096V1106M703 1096V1124M711 1101V1115M718 1101V1115M726 1102V1110M734 1089V1109M742 1097V1109M750 1097V1117M758 1103V1127M766 1112V1131M774 1114V1127M781 1108V1140M789 1061V1117M797 1020V1079M805 1067V1110M813 1060V1093M821 1072V1099M829 1094V1131M837 1101V1130M844 1087V1128M852 1114V1161M860 1121V1152M868 1105V1130M876 1096V1125M884 1083V1100M892 1088V1117M900 1091V1107M908 1085V1100M915 1075V1098M923 1071V1089M931 1077V1089M939 1064V1099M947 1066V1099M955 1068V1089M963 1076V1087M971 1063V1079M978 1030V1075M986 1022V1118M994 1064V1149M1002 1127V1154M1010 1111V1132M1018 1107V1120M1026 1075V1117M1034 1055V1089M1042 1048V1070M1049 1059V1069M1057 1062V1077M1065 928V1077M1073 1028V1055M1081 1032V1062M1089 1034V1056M1097 1016V1053M1105 1025V1096M1112 1084V1107M1120 1091V1125M1128 1107V1141M1136 1115V1148M1144 1126V1243M1152 1207V1253M1160 1221V1352M1168 1268V1320M1175 1261V1318M1183 1247V1304M1191 1208V1256M1199 1225V1245M1207 1225V1243M1215 1230V1253M1223 1249V1313M1231 1271V1383M1238 1305V1392M1246 1314V1349M1254 1313V1358M1262 1306V1330M1270 1320V1366M1278 1335V1375M1286 1353V1408M1294 1352V1486M1302 1464V1522M1309 1468V1522M1317 1410V1500M1325 1391V1433M1333 1404V1430M1341 1377V1421M1349 1374V1412M1357 1402V1449M1365 1440V1472M1372 1408V1452M1380 1406V1434M1388 1409V1429M1396 1405V1417M1404 1388V1424M1412 1366V1449M1420 1215V1419M1428 1195V1238M1436 1210V1278M1443 1256V1322M1451 1300V1343M1459 1301V1382M1467 1362V1507M1475 1472V1507" stroke="#000" stroke-width="2" fill="none"/>
<path d="M53 865h6V875h-6ZM61 877h6V896h-6ZM77 885h6V904h-6ZM93 896h6V960h-6ZM101 960h6V1007h-6ZM109 1007h6V1209h-6ZM124 1149h6V1175h-6ZM156 1000h6V1040h-6ZM164 1039h6V1101h-6ZM187 1059h6V1062h-6ZM195 1062h6V1084h-6ZM203 1085h6V1092h-6ZM227 1045h6V1061h-6ZM235 1060h6V1062h-6ZM266 1029h6V1043h-6ZM274 1043h6V1101h-6ZM282 1101h6V1111h-6ZM290 1109h6V1111h-6ZM306 1095h6V1097h-6ZM321 1067h6V1092h-6ZM329 1091h6V1128h-6ZM337 1128h6V1151h-6ZM353 1138h6V1146h-6ZM361 1146h6V1156h-6ZM369 1156h6V1163h-6ZM384 1141h6V1145h-6ZM400 1116h6V1127h-6ZM408 1127h6V1131h-6ZM416 1129h6V1131h-6ZM424 1131h6V1150h-6ZM432 1148h6V1150h-6ZM440 1147h6V1149h-6ZM463 1128h6V1131h-6ZM479 1121h6V1127h-6ZM503 1098h6V1100h-6ZM511 1099h6V1127h-6ZM518 1126h6V1171h-6ZM534 1163h6V1173h-6ZM558 1148h6V1161h-6ZM581 1079h6V1082h-6ZM589 1078h6V1116h-6ZM597 1115h6V1131h-6ZM605 1131h6V1136h-6ZM613 1135h6V1140h-6ZM637 1095h6V1105h-6ZM645 1105h6V1113h-6ZM668 1082h6V1090h-6ZM676 1088h6V1090h-6ZM684 1089h6V1106h-6ZM700 1099h6V1111h-6ZM708 1108h6V1110h-6ZM715 1108h6V1110h-6ZM723 1105h6V1109h-6ZM731 1105h6V1108h-6ZM747 1098h6V1107h-6ZM755 1107h6V1114h-6ZM763 1114h6V1127h-6ZM794 1072h6V1074h-6ZM802 1072h6V1093h-6ZM818 1079h6V1098h-6ZM826 1097h6V1122h-6ZM841 1117h6V1122h-6ZM849 1121h6V1147h-6ZM889 1089h6V1107h-6ZM905 1096h6V1098h-6ZM920 1079h6V1087h-6ZM936 1080h6V1098h-6ZM952 1077h6V1082h-6ZM960 1079h6V1082h-6ZM983 1053h6V1091h-6ZM991 1091h6V1141h-6ZM1039 1062h6V1064h-6ZM1046 1063h6V1068h-6ZM1054 1067h6V1074h-6ZM1070 1031h6V1048h-6ZM1078 1048h6V1056h-6ZM1102 1035h6V1093h-6ZM1109 1093h6V1095h-6ZM1117 1091h6V1110h-6ZM1125 1110h6V1130h-6ZM1133 1130h6V1141h-6ZM1141 1140h6V1218h-6ZM1149 1218h6V1231h-6ZM1157 1231h6V1313h-6ZM1172 1271h6V1287h-6ZM1196 1231h6V1235h-6ZM1204 1235h6V1239h-6ZM1212 1239h6V1251h-6ZM1220 1250h6V1274h-6ZM1228 1275h6V1364h-6ZM1243 1337h6V1339h-6ZM1259 1322h6V1324h-6ZM1267 1323h6V1343h-6ZM1275 1343h6V1366h-6ZM1291 1355h6V1472h-6ZM1299 1471h6V1501h-6ZM1346 1386h6V1411h-6ZM1354 1409h6V1443h-6ZM1362 1443h6V1449h-6ZM1377 1414h6V1418h-6ZM1385 1415h6V1419h-6ZM1393 1415h6V1417h-6ZM1409 1403h6V1409h-6ZM1433 1214h6V1266h-6ZM1440 1266h6V1301h-6ZM1448 1301h6V1322h-6ZM1456 1322h6V1369h-6ZM1464 1369h6V1499h-6Z" fill="#000"/>
<path d="M55 866h2V874h-2ZM63 878h2V895h-2ZM79 886h2V903h-2ZM95 897h2V959h-2ZM103 961h2V1006h-2ZM111 1008h2V1208h-2ZM126 1150h2V1174h-2ZM158 1001h2V1039h-2ZM166 1040h2V1100h-2ZM197 1063h2V1083h-2ZM205 1086h2V1091h-2ZM229 1046h2V1060h-2ZM268 1030h2V1042h-2ZM276 1044h2V1100h-2ZM284 1102h2V1110h-2ZM323 1068h2V1091h-2ZM331 1092h2V1127h-2ZM339 1129h2V1150h-2ZM355 1139h2V1145h-2ZM363 1147h2V1155h-2ZM371 1157h2V1162h-2ZM386 1142h2V1144h-2ZM402 1117h2V1126h-2ZM410 1128h2V1130h-2ZM426 1132h2V1149h-2ZM481 1122h2V1126h-2ZM513 1100h2V1126h-2ZM520 1127h2V1170h-2ZM536 1164h2V1172h-2ZM560 1149h2V1160h-2ZM591 1079h2V1115h-2ZM599 1116h2V1130h-2ZM607 1132h2V1135h-2ZM615 1136h2V1139h-2ZM639 1096h2V1104h-2ZM647 1106h2V1112h-2ZM670 1083h2V1089h-2ZM686 1090h2V1105h-2ZM702 1100h2V1110h-2ZM725 1106h2V1108h-2ZM749 1099h2V1106h-2ZM757 1108h2V1113h-2ZM765 1115h2V1126h-2ZM804 1073h2V1092h-2ZM820 1080h2V1097h-2ZM828 1098h2V1121h-2ZM843 1118h2V1121h-2ZM851 1122h2V1146h-2ZM891 1090h2V1106h-2ZM922 1080h2V1086h-2ZM938 1081h2V1097h-2ZM954 1078h2V1081h-2ZM985 1054h2V1090h-2ZM993 1092h2V1140h-2ZM1048 1064h2V1067h-2ZM1056 1068h2V1073h-2ZM1072 1032h2V1047h-2ZM1080 1049h2V1055h-2ZM1104 1036h2V1092h-2ZM1119 1092h2V1109h-2ZM1127 1111h2V1129h-2ZM1135 1131h2V1140h-2ZM1143 1141h2V1217h-2ZM1151 1219h2V1230h-2ZM1159 1232h2V1312h-2ZM1174 1272h2V1286h-2ZM1198 1232h2V1234h-2ZM1206 1236h2V1238h-2ZM1214 1240h2V1250h-2ZM1222 1251h2V1273h-2ZM1230 1276h2V1363h-2ZM1269 1324h2V1342h-2ZM1277 1344h2V1365h-2ZM1293 1356h2V1471h-2ZM1301 1472h2V1500h-2ZM1348 1387h2V1410h-2ZM1356 1410h2V1442h-2ZM1364 1444h2V1448h-2ZM1379 1415h2V1417h-2ZM1387 1416h2V1418h-2ZM1411 1404h2V1408h-2ZM1435 1215h2V1265h-2ZM1442 1267h2V1300h-2ZM1450 1302h2V1321h-2ZM1458 1323h2V1368h-2ZM1466 1370h2V1498h-2Z" fill="#26272c"/>
<path d="M69 885h6V897h-6ZM85 897h6V903h-6ZM117 1149h6V1208h-6ZM132 1100h6V1175h-6ZM140 1066h6V1100h-6ZM148 1000h6V1065h-6ZM172 1069h6V1101h-6ZM180 1059h6V1069h-6ZM211 1069h6V1092h-6ZM219 1045h6V1069h-6ZM243 1053h6V1060h-6ZM251 1043h6V1054h-6ZM258 1029h6V1043h-6ZM298 1096h6V1113h-6ZM314 1067h6V1096h-6ZM345 1138h6V1150h-6ZM377 1142h6V1162h-6ZM392 1118h6V1144h-6ZM447 1140h6V1149h-6ZM455 1131h6V1140h-6ZM471 1121h6V1128h-6ZM487 1118h6V1127h-6ZM495 1097h6V1118h-6ZM526 1163h6V1170h-6ZM542 1152h6V1172h-6ZM550 1148h6V1154h-6ZM566 1118h6V1161h-6ZM574 1082h6V1118h-6ZM621 1118h6V1140h-6ZM629 1095h6V1119h-6ZM652 1085h6V1113h-6ZM660 1081h6V1085h-6ZM692 1099h6V1105h-6ZM739 1097h6V1108h-6ZM771 1122h6V1127h-6ZM778 1114h6V1122h-6ZM786 1072h6V1114h-6ZM810 1079h6V1093h-6ZM834 1117h6V1122h-6ZM857 1122h6V1148h-6ZM865 1109h6V1122h-6ZM873 1100h6V1109h-6ZM881 1089h6V1100h-6ZM897 1098h6V1107h-6ZM912 1079h6V1096h-6ZM928 1081h6V1087h-6ZM944 1077h6V1098h-6ZM968 1072h6V1079h-6ZM975 1053h6V1072h-6ZM999 1128h6V1141h-6ZM1007 1119h6V1128h-6ZM1015 1114h6V1119h-6ZM1023 1084h6V1114h-6ZM1031 1060h6V1084h-6ZM1062 1031h6V1074h-6ZM1086 1042h6V1056h-6ZM1094 1035h6V1042h-6ZM1165 1271h6V1313h-6ZM1180 1247h6V1287h-6ZM1188 1233h6V1247h-6ZM1235 1337h6V1364h-6ZM1251 1322h6V1338h-6ZM1283 1356h6V1366h-6ZM1306 1486h6V1501h-6ZM1314 1414h6V1486h-6ZM1322 1409h6V1413h-6ZM1330 1404h6V1409h-6ZM1338 1386h6V1403h-6ZM1369 1413h6V1450h-6ZM1401 1403h6V1415h-6ZM1417 1236h6V1409h-6ZM1425 1215h6V1236h-6ZM1472 1481h6V1497h-6Z" fill="#000"/>
<path d="M71 887h2v8h-2ZM87 899h2v2h-2ZM119 1151h2v55h-2ZM134 1102h2v71h-2ZM142 1068h2v30h-2ZM150 1002h2v61h-2ZM174 1071h2v28h-2ZM182 1061h2v6h-2ZM213 1071h2v19h-2ZM221 1047h2v20h-2ZM245 1055h2v3h-2ZM253 1045h2v7h-2ZM260 1031h2v10h-2ZM300 1098h2v13h-2ZM316 1069h2v25h-2ZM347 1140h2v8h-2ZM379 1144h2v16h-2ZM394 1120h2v22h-2ZM449 1142h2v5h-2ZM457 1133h2v5h-2ZM473 1123h2v3h-2ZM489 1120h2v5h-2ZM497 1099h2v17h-2ZM528 1165h2v3h-2ZM544 1154h2v16h-2ZM552 1150h2v2h-2ZM568 1120h2v39h-2ZM576 1084h2v32h-2ZM623 1120h2v18h-2ZM631 1097h2v20h-2ZM654 1087h2v24h-2ZM662 1082h2v2h-2ZM694 1101h2v2h-2ZM741 1099h2v7h-2ZM773 1124h2v1h-2ZM780 1116h2v4h-2ZM788 1074h2v38h-2ZM812 1081h2v10h-2ZM836 1119h2v1h-2ZM859 1124h2v22h-2ZM867 1111h2v9h-2ZM875 1102h2v5h-2ZM883 1091h2v7h-2ZM899 1100h2v5h-2ZM914 1081h2v13h-2ZM930 1083h2v2h-2ZM946 1079h2v17h-2ZM970 1074h2v3h-2ZM977 1055h2v15h-2ZM1001 1130h2v9h-2ZM1009 1121h2v5h-2ZM1017 1116h2v1h-2ZM1025 1086h2v26h-2ZM1033 1062h2v20h-2ZM1064 1033h2v39h-2ZM1088 1044h2v10h-2ZM1096 1037h2v3h-2ZM1167 1273h2v38h-2ZM1182 1249h2v36h-2ZM1190 1235h2v10h-2ZM1237 1339h2v23h-2ZM1253 1324h2v12h-2ZM1285 1358h2v6h-2ZM1308 1488h2v11h-2ZM1316 1416h2v68h-2ZM1324 1410h2v2h-2ZM1332 1406h2v1h-2ZM1340 1388h2v13h-2ZM1371 1415h2v33h-2ZM1403 1405h2v8h-2ZM1419 1238h2v169h-2ZM1427 1217h2v17h-2ZM1474 1483h2v12h-2Z" fill="#fff"/>

</g>
<text x="36.5" y="94.0" font-size="24" fill="#131722" font-weight="normal" text-anchor="start" textLength="527.1" lengthAdjust="spacing">BTCUSD · Bitcoin / U.S. Dollar · 9h · COINBASE</text>
<text x="578.6" y="94.0" font-size="24" fill="#131722" font-weight="normal" text-anchor="start" textLength="131.4" lengthAdjust="spacing">O90,245.75</text>
<text x="725.7" y="94.0" font-size="24" fill="#131722" font-weight="normal" text-anchor="start" textLength="132.2" lengthAdjust="spacing">H90,392.06</text>
<text x="873.8" y="94.0" font-size="24" fill="#131722" font-weight="normal" text-anchor="start" textLength="127.5" lengthAdjust="spacing">L85,085.00</text>
<text x="1017.2" y="94.0" font-size="24" fill="#131722" font-weight="normal" text-anchor="start" textLength="123.8" lengthAdjust="spacing">C86,155.81</text>
<text x="1157.0" y="94.0" font-size="24" fill="#131722" font-weight="normal" text-anchor="start" textLength="225.0" lengthAdjust="spacing">−4,079.56 (−4.52%)</text>
<text x="36.7" y="907.8" font-size="24" fill="#131722" font-weight="normal" text-anchor="start" textLength="531.9" lengthAdjust="spacing">ETHUSD · Ethereum / U.S. Dollar · 4h · KRAKEN</text>
<text x="583.7" y="907.8" font-size="24" fill="#131722" font-weight="normal" text-anchor="start" textLength="115.1" lengthAdjust="spacing">O2,108.58</text>
<text x="713.9" y="907.8" font-size="24" fill="#131722" font-weight="normal" text-anchor="start" textLength="108.5" lengthAdjust="spacing">H2,141.97</text>
<text x="837.6" y="907.8" font-size="24" fill="#131722" font-weight="normal" text-anchor="start" textLength="112.5" lengthAdjust="spacing">L2,095.90</text>
<text x="964.7" y="907.8" font-size="24" fill="#131722" font-weight="normal" text-anchor="start" textLength="111.1" lengthAdjust="spacing">C2,131.46</text>
<text x="1089.9" y="907.8" font-size="24" fill="#131722" font-weight="normal" text-anchor="start" textLength="185.2" lengthAdjust="spacing">+24.80 (+1.18%)</text>
<text x="407.3" y="523.7" font-size="36" fill="#0b0b0d" font-weight="bold" text-anchor="start" textLength="251.6" lengthAdjust="spacing">23' BTC Range</text>
<text x="415.4" y="559.7" font-size="36" fill="#0b0b0d" font-weight="bold" text-anchor="start" textLength="201.6" lengthAdjust="spacing">Low Bottom</text>
<text x="1358.2" y="294.5" font-size="23.5" fill="#0b0b0d" font-weight="bold" text-anchor="start" textLength="134.0" lengthAdjust="spacing">Bitcoin ETF</text>
<text x="1358.2" y="318.7" font-size="23.5" fill="#0b0b0d" font-weight="bold" text-anchor="start" textLength="139.8" lengthAdjust="spacing">News Pump</text>
<text x="1343.6" y="1136.5" font-size="23.5" fill="#0b0b0d" font-weight="bold" text-anchor="start" textLength="184.5" lengthAdjust="spacing">Crypto Reserve</text>
<text x="1362.2" y="1160.5" font-size="23.5" fill="#0b0b0d" font-weight="bold" text-anchor="start" textLength="139.8" lengthAdjust="spacing">News Pump</text>
<text x="395.9" y="1364.0" font-size="36" fill="#0b0b0d" font-weight="bold" text-anchor="start" textLength="326.0" lengthAdjust="spacing">ETH Current Range</text>
<text x="404.3" y="1399.7" font-size="36" fill="#0b0b0d" font-weight="bold" text-anchor="start" textLength="281.8" lengthAdjust="spacing">Low Price Action</text>
<rect x="3078" y="62" width="144" height="52" rx="8" fill="#0f0f0f"/>
<text x="3097.7" y="96.0" font-size="23" fill="#e6e6e6" font-weight="normal" text-anchor="start" textLength="47.0" lengthAdjust="spacing">USD</text>
<rect x="3094" y="876" width="128" height="51.5" rx="8" fill="#0f0f0f"/>
<text x="3113.5" y="910.0" font-size="23" fill="#e6e6e6" font-weight="normal" text-anchor="start" textLength="47.0" lengthAdjust="spacing">USD</text>
<text x="3089.6" y="144.3" font-size="24" fill="#131722" font-weight="normal" text-anchor="start" textLength="117.7" lengthAdjust="spacing">30,000.00</text>
<text x="3089.6" y="206.1" font-size="24" fill="#131722" font-weight="normal" text-anchor="start" textLength="117.7" lengthAdjust="spacing">29,500.00</text>
<text x="3089.6" y="267.8" font-size="24" fill="#131722" font-weight="normal" text-anchor="start" textLength="117.7" lengthAdjust="spacing">29,000.00</text>
<text x="3089.6" y="329.6" font-size="24" fill="#131722" font-weight="normal" text-anchor="start" textLength="117.7" lengthAdjust="spacing">28,500.00</text>
<text x="3089.6" y="391.3" font-size="24" fill="#131722" font-weight="normal" text-anchor="start" textLength="117.7" lengthAdjust="spacing">28,000.00</text>
<text x="3089.6" y="453.1" font-size="24" fill="#131722" font-weight="normal" text-anchor="start" textLength="117.7" lengthAdjust="spacing">27,500.00</text>
<text x="3089.6" y="514.9" font-size="24" fill="#131722" font-weight="normal" text-anchor="start" textLength="117.7" lengthAdjust="spacing">27,000.00</text>
<text x="3089.6" y="576.6" font-size="24" fill="#131722" font-weight="normal" text-anchor="start" textLength="117.7" lengthAdjust="spacing">26,500.00</text>
<text x="3089.6" y="638.4" font-size="24" fill="#131722" font-weight="normal" text-anchor="start" textLength="117.7" lengthAdjust="spacing">26,000.00</text>
<text x="3089.6" y="700.1" font-size="24" fill="#131722" font-weight="normal" text-anchor="start" textLength="117.7" lengthAdjust="spacing">25,500.00</text>
<text x="3089.6" y="761.9" font-size="24" fill="#131722" font-weight="normal" text-anchor="start" textLength="117.7" lengthAdjust="spacing">25,000.00</text>
<text x="3105.7" y="997.2" font-size="24" fill="#131722" font-weight="normal" text-anchor="start" textLength="101.6" lengthAdjust="spacing">2,900.00</text>
<text x="3105.7" y="1110.8" font-size="24" fill="#131722" font-weight="normal" text-anchor="start" textLength="101.6" lengthAdjust="spacing">2,700.00</text>
<text x="3105.7" y="1233.3" font-size="24" fill="#131722" font-weight="normal" text-anchor="start" textLength="101.6" lengthAdjust="spacing">2,500.00</text>
<text x="3105.7" y="1297.4" font-size="24" fill="#131722" font-weight="normal" text-anchor="start" textLength="101.6" lengthAdjust="spacing">2,400.00</text>
<text x="3105.7" y="1378.7" font-size="24" fill="#131722" font-weight="normal" text-anchor="start" textLength="101.6" lengthAdjust="spacing">2,280.00</text>
<text x="3105.7" y="1450.6" font-size="24" fill="#131722" font-weight="normal" text-anchor="start" textLength="101.6" lengthAdjust="spacing">2,180.00</text>
<text x="3105.7" y="1524.6" font-size="24" fill="#131722" font-weight="normal" text-anchor="start" textLength="101.6" lengthAdjust="spacing">2,080.00</text>
<path d="M3088 1463H3216a4 4 0 0 1 4 4V1493a4 4 0 0 1 -4 4H3088Z" fill="#c8e6c9"/>
<text x="3105.7" y="1487.0" font-size="24" fill="#000" font-weight="normal" text-anchor="start" textLength="101.6" lengthAdjust="spacing">2,131.46</text>
<g clip-path="url(#c1)">
<text x="19.5" y="839.5" font-size="24" fill="#131722" font-weight="bold" text-anchor="middle">Jul</text>
<text x="137.9" y="839.5" font-size="24" fill="#131722" font-weight="normal" text-anchor="middle">6</text>
<text x="256.3" y="839.5" font-size="24" fill="#131722" font-weight="normal" text-anchor="middle">11</text>
<text x="374.7" y="839.5" font-size="24" fill="#131722" font-weight="normal" text-anchor="middle">16</text>
<text x="493.1" y="839.5" font-size="24" fill="#131722" font-weight="normal" text-anchor="middle">21</text>
<text x="611.5" y="839.5" font-size="24" fill="#131722" font-weight="normal" text-anchor="middle">26</text>
<text x="753.6" y="839.5" font-size="24" fill="#131722" font-weight="bold" text-anchor="middle">Aug</text>
<text x="872.0" y="839.5" font-size="24" fill="#131722" font-weight="normal" text-anchor="middle">6</text>
<text x="990.4" y="839.5" font-size="24" fill="#131722" font-weight="normal" text-anchor="middle">11</text>
<text x="1108.8" y="839.5" font-size="24" fill="#131722" font-weight="normal" text-anchor="middle">16</text>
<text x="1227.2" y="839.5" font-size="24" fill="#131722" font-weight="normal" text-anchor="middle">21</text>
<text x="1345.6" y="839.5" font-size="24" fill="#131722" font-weight="normal" text-anchor="middle">26</text>
<text x="1487.7" y="839.5" font-size="24" fill="#131722" font-weight="bold" text-anchor="middle">Sep</text>
<text x="1606.1" y="839.5" font-size="24" fill="#131722" font-weight="normal" text-anchor="middle">6</text>
<text x="1724.5" y="839.5" font-size="24" fill="#131722" font-weight="normal" text-anchor="middle">11</text>
<text x="1842.9" y="839.5" font-size="24" fill="#131722" font-weight="normal" text-anchor="middle">16</text>
<text x="1961.3" y="839.5" font-size="24" fill="#131722" font-weight="normal" text-anchor="middle">21</text>
<text x="2079.7" y="839.5" font-size="24" fill="#131722" font-weight="normal" text-anchor="middle">26</text>
<text x="2198.1" y="839.5" font-size="24" fill="#131722" font-weight="bold" text-anchor="middle">Oct</text>
<text x="2316.5" y="839.5" font-size="24" fill="#131722" font-weight="normal" text-anchor="middle">6</text>
<text x="2434.9" y="839.5" font-size="24" fill="#131722" font-weight="normal" text-anchor="middle">11</text>
<text x="2553.3" y="839.5" font-size="24" fill="#131722" font-weight="normal" text-anchor="middle">16</text>
<text x="2671.7" y="839.5" font-size="24" fill="#131722" font-weight="normal" text-anchor="middle">21</text>
<text x="2790.1" y="839.5" font-size="24" fill="#131722" font-weight="normal" text-anchor="middle">26</text>
<text x="2932.1" y="839.5" font-size="24" fill="#131722" font-weight="bold" text-anchor="middle">Nov</text>
<text x="3050.5" y="839.5" font-size="24" fill="#131722" font-weight="normal" text-anchor="middle">6</text>
</g>
<g clip-path="url(#c2)">
<text x="32.9" y="1605.7" font-size="24" fill="#131722" font-weight="bold" text-anchor="middle">Feb</text>
<text x="174.7" y="1605.7" font-size="24" fill="#131722" font-weight="normal" text-anchor="middle">4</text>
<text x="316.5" y="1605.7" font-size="24" fill="#131722" font-weight="normal" text-anchor="middle">7</text>
<text x="458.4" y="1605.7" font-size="24" fill="#131722" font-weight="normal" text-anchor="middle">10</text>
<text x="600.2" y="1605.7" font-size="24" fill="#131722" font-weight="normal" text-anchor="middle">13</text>
<text x="742.1" y="1605.7" font-size="24" fill="#131722" font-weight="normal" text-anchor="middle">16</text>
<text x="883.9" y="1605.7" font-size="24" fill="#131722" font-weight="normal" text-anchor="middle">19</text>
<text x="1025.7" y="1605.7" font-size="24" fill="#131722" font-weight="normal" text-anchor="middle">22</text>
<text x="1167.6" y="1605.7" font-size="24" fill="#131722" font-weight="normal" text-anchor="middle">25</text>
<text x="1356.7" y="1605.7" font-size="24" fill="#131722" font-weight="bold" text-anchor="middle">Mar</text>
<text x="1498.5" y="1605.7" font-size="24" fill="#131722" font-weight="normal" text-anchor="middle">4</text>
<text x="1640.4" y="1605.7" font-size="24" fill="#131722" font-weight="normal" text-anchor="middle">7</text>
<text x="1774.8" y="1605.7" font-size="24" fill="#131722" font-weight="normal" text-anchor="middle">10</text>
<text x="1916.7" y="1605.7" font-size="24" fill="#131722" font-weight="normal" text-anchor="middle">13</text>
<text x="2058.5" y="1605.7" font-size="24" fill="#131722" font-weight="normal" text-anchor="middle">16</text>
<text x="2200.3" y="1605.7" font-size="24" fill="#131722" font-weight="normal" text-anchor="middle">19</text>
<text x="2342.2" y="1605.7" font-size="24" fill="#131722" font-weight="normal" text-anchor="middle">22</text>
<text x="2484.0" y="1605.7" font-size="24" fill="#131722" font-weight="normal" text-anchor="middle">25</text>
<text x="2625.9" y="1605.7" font-size="24" fill="#131722" font-weight="normal" text-anchor="middle">28</text>
<text x="2815.0" y="1605.7" font-size="24" fill="#131722" font-weight="bold" text-anchor="middle">Apr</text>
<text x="2956.8" y="1605.7" font-size="24" fill="#131722" font-weight="normal" text-anchor="middle">4</text>
</g>
</svg>
</body></html>
